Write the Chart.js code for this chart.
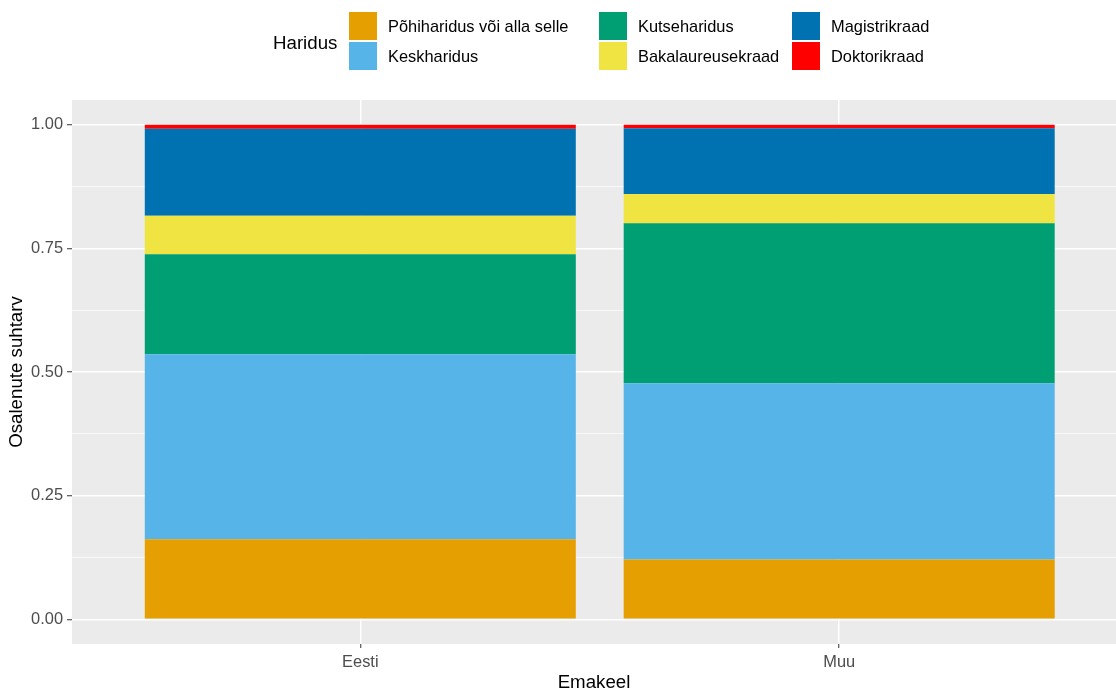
<!DOCTYPE html>
<html>
<head>
<meta charset="utf-8">
<script src="https://cdn.jsdelivr.net/npm/chart.js@4/dist/chart.umd.min.js"></script>
<style>
  body { margin: 0; background: #fff; font-family: "Liberation Sans", Arial, sans-serif; }
  #wrap { position: relative; width: 1116px; height: 691px; }
  #legend { position: absolute; left: 273px; top: 11px; display: flex; align-items: center; }
  #legend .title { font-size: 18.7px; color: #000; width: 76px; margin-top: 3px; }
  #legend .grid { display: grid; grid-auto-flow: column; grid-template-rows: 30px 30px; grid-template-columns: 250px 193px auto; }
  #legend .item { display: flex; align-items: center; height: 30px; }
  #legend .box { width: 28px; height: 28px; margin-right: 11px; }
  #legend .lbl { font-size: 16.4px; color: #000; white-space: nowrap; }
</style>
</head>
<body>
<div id="wrap">
  <canvas id="chart" width="1116" height="691"></canvas>
  <div id="legend"><div class="title">Haridus</div><div class="grid" id="legendGrid"></div></div>
</div>
<script>
// emakeel (x categories)
const categories = ["Eesti", "Muu"];

// haridus levels, bottom to top of the stack
const levels = [
  "Põhiharidus või alla selle",
  "Keskharidus",
  "Kutseharidus",
  "Bakalaureusekraad",
  "Magistrikraad",
  "Doktorikraad"
];
const levelColors = ["#E69F00", "#56B4E9", "#009E73", "#F0E442", "#0072B2", "#FF0000"];

// proportions per level, for Eesti and Muu
const pohiharidus = [0.162, 0.121];
const keskharidus = [0.374, 0.356];
const kutseharidus = [0.202, 0.324];
const bakalaureus = [0.078, 0.059];
const magister = [0.176, 0.133];
const doktor = [0.008, 0.007];

const yTickValues = [0, 0.25, 0.5, 0.75, 1];
const yTickLabels = ["0.00", "0.25", "0.50", "0.75", "1.00"];
const yMinorValues = [0.125, 0.375, 0.625, 0.875];

const series = [pohiharidus, keskharidus, kutseharidus, bakalaureus, magister, doktor];

const datasets = series.map(function (vals, i) {
  return {
    label: levels[i],
    data: vals.map(function (v, j) { return { x: j + 1, y: v }; }),
    backgroundColor: levelColors[i],
    borderWidth: 0,
    barPercentage: 0.9,
    categoryPercentage: 1.0
  };
});

// legend, ggplot style: 2 rows, filled column by column
const grid = document.getElementById("legendGrid");
levels.forEach(function (name, i) {
  const item = document.createElement("div");
  item.className = "item";
  const box = document.createElement("div");
  box.className = "box";
  box.style.background = levelColors[i];
  const lbl = document.createElement("span");
  lbl.className = "lbl";
  lbl.textContent = name;
  item.appendChild(box);
  item.appendChild(lbl);
  grid.appendChild(item);
});

const panelBg = {
  id: "panelBg",
  beforeDraw: function (chart) {
    const a = chart.chartArea;
    const ctx = chart.ctx;
    ctx.save();
    ctx.fillStyle = "#EBEBEB";
    ctx.fillRect(a.left, a.top, a.right - a.left, a.bottom - a.top);
    ctx.restore();
  }
};

function isMajor(ctx) {
  return ctx.tick && yTickValues.indexOf(ctx.tick.value) >= 0;
}

const fontFam = '"Liberation Sans", Arial, sans-serif';

new Chart(document.getElementById("chart"), {
  type: "bar",
  data: { datasets: datasets },
  options: {
    responsive: false,
    devicePixelRatio: 1,
    animation: false,
    layout: { padding: { top: 100, left: 0, right: 0, bottom: 0 } },
    plugins: {
      legend: { display: false },
      tooltip: { enabled: false }
    },
    scales: {
      x: {
        type: "linear",
        stacked: true,
        offset: false,
        min: 0.398,
        max: 2.578,
        afterBuildTicks: function (scale) {
          scale.ticks = categories.map(function (c, i) { return { value: i + 1 }; });
        },
        afterFit: function (scale) { scale.height = 47; },
        ticks: {
          padding: 5,
          color: "#4D4D4D",
          font: { family: fontFam, size: 16.4 },
          callback: function (value) { return categories[value - 1]; }
        },
        grid: {
          offset: false,
          color: "#FFFFFF",
          lineWidth: 1.5,
          tickColor: "#333333",
          tickLength: 4,
          tickWidth: 1
        },
        border: { display: false },
        title: {
          display: true,
          text: "Emakeel",
          color: "#000",
          font: { family: fontFam, size: 18.7, lineHeight: 1 },
          padding: { top: 0, bottom: -1 }
        }
      },
      y: {
        stacked: true,
        min: -0.05,
        max: 1.05,
        afterBuildTicks: function (scale) {
          scale.ticks = yTickValues.concat(yMinorValues)
            .sort(function (a, b) { return a - b; })
            .map(function (v) { return { value: v }; });
        },
        afterFit: function (scale) { scale.width = 72; },
        ticks: {
          padding: 4,
          color: "#4D4D4D",
          font: { family: fontFam, size: 16.4 },
          callback: function (value) {
            const k = yTickValues.indexOf(value);
            return k >= 0 ? yTickLabels[k] : "";
          }
        },
        grid: {
          color: "#FFFFFF",
          lineWidth: function (ctx) { return isMajor(ctx) ? 1.5 : 0.7; },
          tickColor: function (ctx) { return isMajor(ctx) ? "#333333" : "rgba(0,0,0,0)"; },
          tickLength: 5,
          tickWidth: 1
        },
        border: { display: false },
        title: {
          display: true,
          text: "Osalenute suhtarv",
          color: "#000",
          font: { family: fontFam, size: 18.7, lineHeight: 1.2 },
          padding: { top: 6, bottom: 0 }
        }
      }
    }
  },
  plugins: [panelBg]
});
</script>
</body>
</html>
